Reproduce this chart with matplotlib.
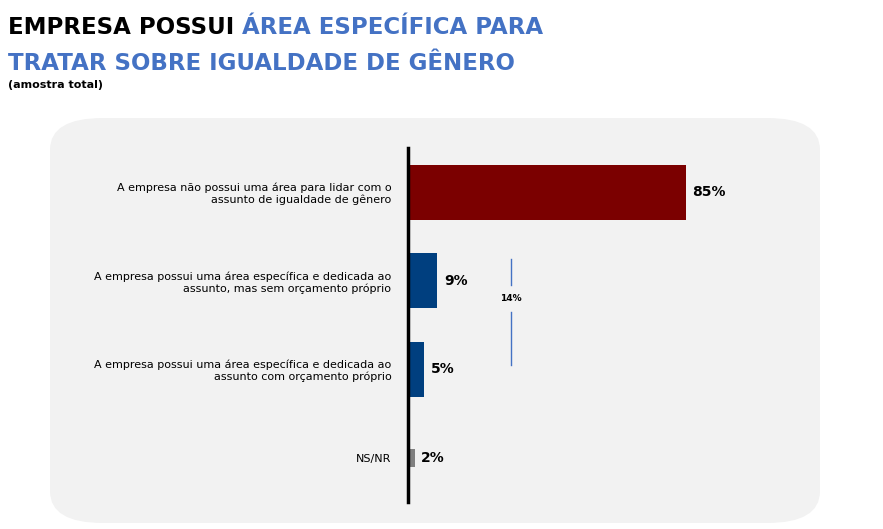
import matplotlib.pyplot as plt
from matplotlib.patches import FancyBboxPatch

categories = [
    "A empresa não possui uma área para lidar com o\nassunto de igualdade de gênero",
    "A empresa possui uma área específica e dedicada ao\nassunto, mas sem orçamento próprio",
    "A empresa possui uma área específica e dedicada ao\nassunto com orçamento próprio",
    "NS/NR",
]
values = [85, 9, 5, 2]
colors = ["#7B0000", "#003F7F", "#003F7F", "#808080"]
widths = [0.62, 0.62, 0.62, 0.2]
group_total = "14%"

W, H = 883, 529
fig = plt.figure(figsize=(W / 100, H / 100), dpi=100)

# rounded background panel
panel = FancyBboxPatch((50 / W, 6 / H), 770 / W, 405 / H,
                       boxstyle="round,pad=0,rounding_size=0.06",
                       transform=fig.transFigure, facecolor="#F2F2F2",
                       edgecolor="none", zorder=-5)
fig.patches.append(panel)

# title
t1 = fig.text(8 / W, 1 - 34 / H, "EMPRESA POSSUI ", fontsize=16.5, fontweight="bold",
              color="black", va="baseline")
fig.canvas.draw()
bb = t1.get_window_extent()
fig.text(bb.x1 / W, 1 - 34 / H, "ÁREA ESPECÍFICA PARA", fontsize=16.5,
         fontweight="bold", color="#4472C4", va="baseline")
fig.text(8 / W, 1 - 70 / H, "TRATAR SOBRE IGUALDADE DE GÊNERO", fontsize=16.5,
         fontweight="bold", color="#4472C4", va="baseline")
fig.text(8 / W, 1 - 88 / H, "(amostra total)", fontsize=8, fontweight="bold",
         color="black", va="baseline")

ax = fig.add_axes([408 / W, 27 / H, 330 / W, 354 / H])
ax.set_zorder(2)
ax.patch.set_visible(False)
y = list(range(len(values)))
for i, (v, c, w) in enumerate(zip(values, colors, widths)):
    ax.barh(i, v, height=w, color=c, zorder=2)
    ax.text(v + 2, i, f"{v}%", va="center", ha="left", fontsize=10,
            fontweight="bold", color="black")
ax.set_xlim(0, 101)
ax.set_ylim(3.5, -0.5)
ax.set_yticks(y)
ax.set_yticklabels(categories, fontsize=8, ha="right", multialignment="right")
ax.tick_params(axis="y", length=0, pad=12)
ax.set_xticks([])
for s in ["top", "right", "bottom"]:
    ax.spines[s].set_visible(False)
ax.spines["left"].set_linewidth(2.5)
ax.spines["left"].set_color("black")

# bracket for the 14% group
bx = 31.5
ax.plot([bx, bx], [0.75, 1.05], color="#4472C4", lw=1)
ax.plot([bx, bx], [1.35, 1.95], color="#4472C4", lw=1)
ax.text(bx, 1.2, group_total, ha="center", va="center", fontsize=6.5,
        fontweight="bold", color="black")

fig.savefig("out.png", dpi=100)
